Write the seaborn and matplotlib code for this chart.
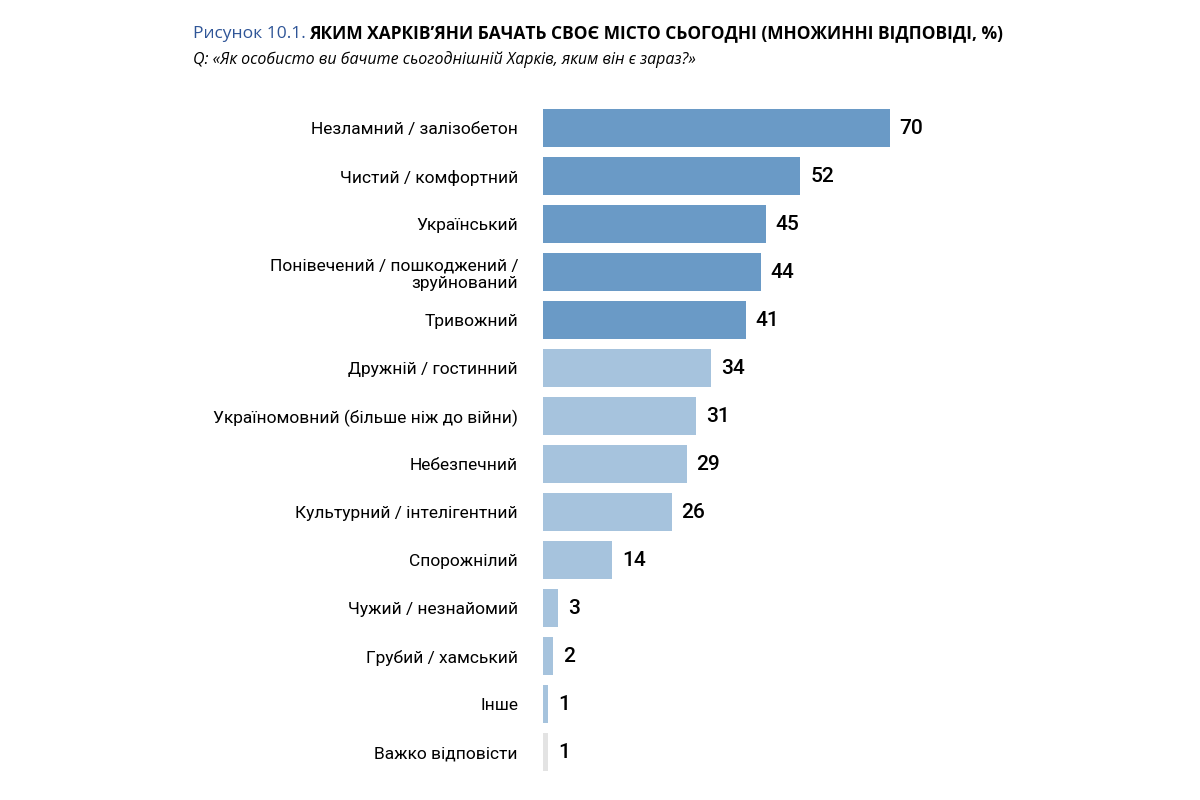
import pandas as pd
import matplotlib.pyplot as plt
import seaborn as sns

categories = [
    'Незламний / залізобетон', 'Чистий / комфортний', 'Український',
    'Понівечений / пошкоджений /\nзруйнований', 'Тривожний', 'Дружній / гостинний',
    'Україномовний (більше ніж до війни)', 'Небезпечний', 'Культурний / інтелігентний',
    'Спорожнілий', 'Чужий / незнайомий', 'Грубий / хамський', 'Інше', 'Важко відповісти',
]
values = [70, 52, 45, 44, 41, 34, 31, 29, 26, 14, 3, 2, 1, 1]
groups = ['top'] * 5 + ['rest'] * 8 + ['dk']

df = pd.DataFrame({'cat': categories, 'val': values, 'grp': groups})
palette = {'top': '#5B9BD5', 'rest': '#9DC3E6', 'dk': '#E3E3E3'}

plt.rcParams['font.family'] = 'Roboto'
fig = plt.figure(figsize=(12, 8), dpi=100)
ax = fig.add_axes([0.4525, 0.03, 0.33, 0.84])
sns.barplot(data=df, y='cat', x='val', hue='grp', palette=palette, dodge=False,
            legend=False, width=0.78, ax=ax)
ax.set_xlim(0, 80)
ax.set_ylim(13.5, -0.5)
for i, v in enumerate(values):
    ax.text(v + 2, i, str(v), va='center', ha='left', fontsize=15, fontweight='medium')
ax.set_xlabel('')
ax.set_ylabel('')
ax.set_xticks([])
ax.tick_params(axis='y', length=0, labelsize=12.5, pad=18)
for s in ax.spines.values():
    s.set_visible(False)

fig.text(0.161, 0.958, 'Рисунок 10.1. ', color='#2F5597', fontsize=12.5,
         va='center', fontfamily='Open Sans')
fig.text(0.258, 0.958, 'ЯКИМ ХАРКІВ’ЯНИ БАЧАТЬ СВОЄ МІСТО СЬОГОДНІ (МНОЖИННІ ВІДПОВІДІ, %)',
         fontsize=12.5, fontweight='bold', va='center', fontfamily='Open Sans')
fig.text(0.161, 0.925, 'Q: «Як особисто ви бачите сьогоднішній Харків, яким він є зараз?»',
         fontsize=11.5, style='italic', va='center', fontfamily='Open Sans')

plt.savefig('out.png')
